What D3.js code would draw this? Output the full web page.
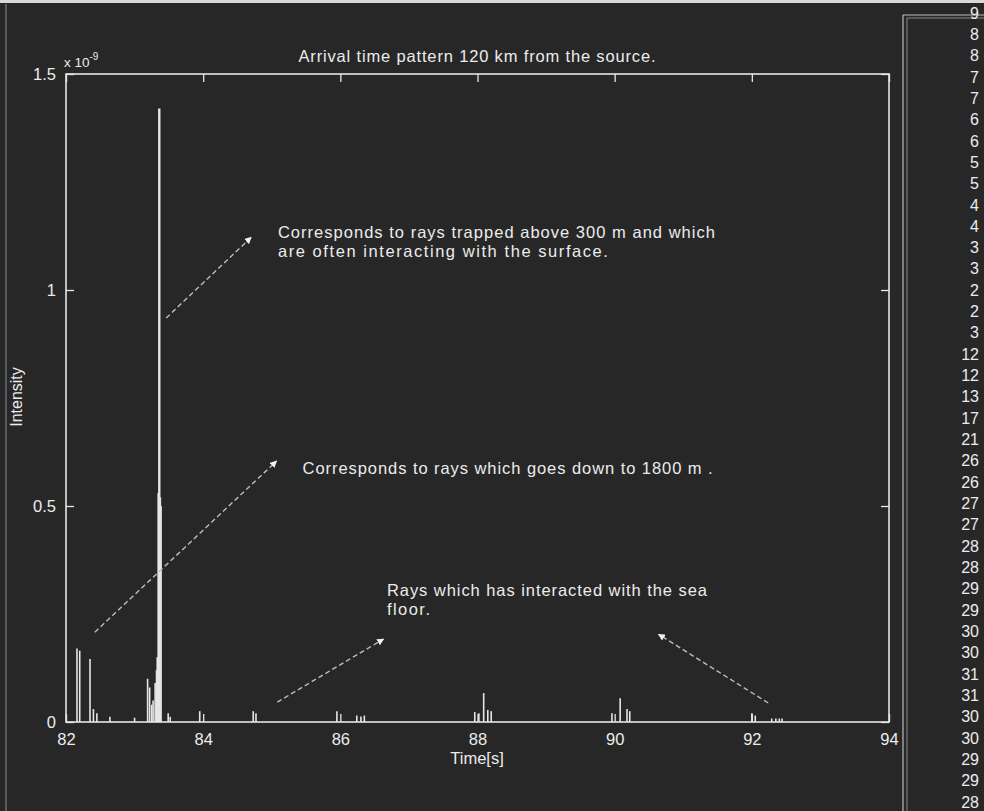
<!DOCTYPE html>
<html><head><meta charset="utf-8">
<script src="https://cdn.jsdelivr.net/npm/d3@7"></script>
<style>
html,body{margin:0;padding:0;background:#272727;}
svg{display:block;}
text{font-family:"Liberation Sans",Arial,sans-serif;fill:#ececec;}
</style></head><body>
<script>
// ---- data ----
const arrivalTimes = [82.16,82.20,82.35,82.40,82.45,82.64,83.00,83.19,83.22,83.25,83.27,83.30,83.32,83.33,83.35,83.36,83.37,83.38,83.49,83.52,83.95,84.73,84.77,85.95,86.24,86.30,86.35,87.96,88.02,88.09,88.15,88.20,89.96,90.08,90.18,90.22,92.00,92.05,92.29,92.35,92.40,92.44];
const intensities  = [0.170,0.165,0.146,0.030,0.020,0.012,0.010,0.100,0.080,0.040,0.050,0.090,0.120,0.150,0.530,1.420,0.520,0.500,0.020,0.012,0.025,0.025,0.020,0.025,0.015,0.013,0.015,0.023,0.020,0.067,0.028,0.025,0.020,0.055,0.030,0.025,0.020,0.015,0.008,0.008,0.008,0.008];
const xTicks = [82,84,86,88,90,92,94];
const yTicks = [0,0.5,1,1.5];
const yTickLabels = ["0","0.5","1","1.5"];
const sideNumbers = [9,8,8,7,7,6,6,5,5,4,4,3,3,2,2,3,12,12,13,17,21,26,26,27,27,28,28,29,29,30,30,31,31,30,30,29,29,28];
const titleText = "Arrival time pattern 120 km from the source.";
const annotations = [
  {lines:["Corresponds to rays trapped above 300 m and which","are often interacting with the surface."], t:85.09, v:1.120, widths:[437,330]},
  {lines:["Corresponds to rays which goes down to 1800 m ."], t:85.45, v:0.575, widths:[410]},
  {lines:["Rays which has interacted with the sea","floor."], t:86.68, v:0.292, widths:[320,43]}
];
const arrows = [
  {from:[83.46,0.935], to:[84.70,1.122]},
  {from:[82.42,0.208], to:[85.07,0.604]},
  {from:[85.08,0.046], to:[86.63,0.192]},
  {from:[92.24,0.044], to:[90.64,0.203]}
];

// ---- drawing ----
const W=984,H=811;
const svg=d3.select("body").append("svg").attr("width",W).attr("height",H);
svg.append("rect").attr("width",W).attr("height",H).attr("fill","#272727");
// scan edges
svg.append("rect").attr("x",0).attr("y",0).attr("width",W).attr("height",3).attr("fill","#d8d8d8");
svg.append("line").attr("x1",6).attr("x2",6).attr("y1",4).attr("y2",H).attr("stroke","#5a5a5a").attr("stroke-width",2);

const x=d3.scaleLinear().domain([82,94]).range([66,889]);
const y=d3.scaleLinear().domain([0,1.5]).range([722,74]);
const col="#e6e6e6";
const FF="'Liberation Sans',Arial,sans-serif";

const defs=svg.append("defs");
defs.append("marker").attr("id","ah").attr("viewBox","0 0 10 10").attr("refX",9).attr("refY",5)
  .attr("markerWidth",5).attr("markerHeight",5).attr("orient","auto")
  .append("path").attr("d","M0,0L10,5L0,10z").attr("fill","#f2f2f2");

// stems
svg.append("g").selectAll("line").data(arrivalTimes).join("line")
  .attr("x1",d=>x(d)).attr("x2",d=>x(d))
  .attr("y1",y(0)).attr("y2",(d,i)=>y(intensities[i]))
  .attr("stroke",col).attr("stroke-width",(d,i)=>intensities[i]>0.4?2.4:1.6);

// axes box
const g=svg.append("g");
g.append("rect").attr("x",x(82)).attr("y",y(1.5)).attr("width",x(94)-x(82)).attr("height",y(0)-y(1.5))
  .attr("fill","none").attr("stroke",col).attr("stroke-width",1.6);
const axB=d3.axisBottom(x).tickValues(xTicks).tickSize(-8).tickPadding(11).tickFormat(d3.format("d"));
const axT=d3.axisTop(x).tickValues(xTicks).tickSize(-8).tickFormat("");
const axL=d3.axisLeft(y).tickValues(yTicks).tickSize(-8).tickPadding(10).tickFormat((d,i)=>yTickLabels[i]);
const axR=d3.axisRight(y).tickValues(yTicks).tickSize(-8).tickFormat("");
function style(sel){sel.select(".domain").remove();sel.selectAll("line").attr("stroke",col).attr("stroke-width",1.3);
  sel.selectAll("text").attr("fill","#ececec").style("font-size","16.5px").style("font-family",FF);}
g.append("g").attr("transform",`translate(0,${y(0)})`).call(axB).call(style);
g.append("g").attr("transform",`translate(0,${y(1.5)})`).call(axT).call(style);
g.append("g").attr("transform",`translate(${x(82)},0)`).call(axL).call(style);
g.append("g").attr("transform",`translate(${x(94)},0)`).call(axR).call(style);

// title, exponent, labels
svg.append("text").attr("x",477).attr("y",62).attr("text-anchor","middle").style("font-size","16.5px")
  .attr("textLength",357).attr("lengthAdjust","spacing").text(titleText);
const ex=svg.append("text").attr("x",64).attr("y",67).style("font-size","13.5px");
ex.append("tspan").text("x 10");
ex.append("tspan").attr("dy",-7).style("font-size","10px").text("-9");
svg.append("text").attr("transform","translate(22,397) rotate(-90)").attr("text-anchor","middle")
  .style("font-size","16px").text("Intensity");
svg.append("text").attr("x",477).attr("y",764).attr("text-anchor","middle").style("font-size","16.5px").text("Time[s]");

// annotations
annotations.forEach(a=>{
  a.lines.forEach((l,i)=>{
    svg.append("text").attr("x",x(a.t)).attr("y",y(a.v)+i*19).style("font-size","16.5px")
      .attr("textLength",a.widths[i]).attr("lengthAdjust","spacing").text(l);
  });
});
svg.append("g").selectAll("line").data(arrows).join("line")
  .attr("x1",d=>x(d.from[0])).attr("y1",d=>y(d.from[1]))
  .attr("x2",d=>x(d.to[0])).attr("y2",d=>y(d.to[1]))
  .attr("stroke","#bdbdbd").attr("stroke-width",1.4).attr("stroke-dasharray","5,3")
  .attr("marker-end","url(#ah)");

// side panel
const p=svg.append("g");
p.append("line").attr("x1",903).attr("x2",903).attr("y1",15).attr("y2",H).attr("stroke","#bdbdbd").attr("stroke-width",1.2);
p.append("line").attr("x1",907).attr("x2",907).attr("y1",18).attr("y2",H).attr("stroke","#8a8a8a").attr("stroke-width",1);
p.append("line").attr("x1",903).attr("x2",W).attr("y1",15).attr("y2",15).attr("stroke","#bdbdbd").attr("stroke-width",1.2);
p.append("line").attr("x1",907).attr("x2",W).attr("y1",18).attr("y2",18).attr("stroke","#8a8a8a").attr("stroke-width",1);
const ny=d3.scaleLinear().domain([0,sideNumbers.length-1]).range([13,802]);
p.selectAll("text").data(sideNumbers).join("text")
  .attr("x",979).attr("y",(d,i)=>ny(i)).attr("dy","0.35em").attr("text-anchor","end")
  .style("font-size","16px").text(d=>d);
</script>
</body></html>
